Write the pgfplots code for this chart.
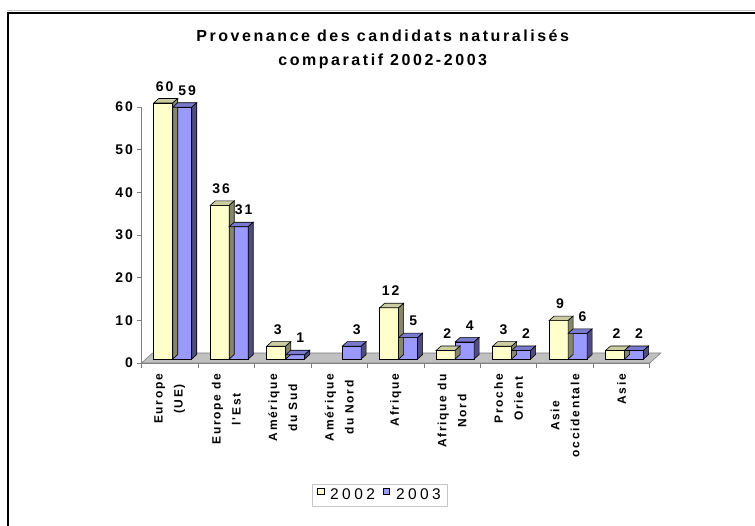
\documentclass[border=0pt]{standalone}
\usepackage{pgfplots}
\usepackage{pgfplotstable}
\pgfplotsset{compat=1.18}
\usepackage{fontspec}
\setmainfont{Liberation Sans}
\newfontfamily\lsf[LetterSpace=22]{Liberation Sans}
\newfontfamily\lsb[LetterSpace=16]{Liberation Sans Bold}
\newfontfamily\lsbt[LetterSpace=14]{Liberation Sans Bold}

\definecolor{f02}{HTML}{FFFFCC}
\definecolor{t02}{HTML}{CCCCA3}
\definecolor{s02}{HTML}{86866B}
\definecolor{f03}{HTML}{9999FF}
\definecolor{t03}{HTML}{7A7ACC}
\definecolor{s03}{HTML}{4D4D80}
\definecolor{floorc}{HTML}{C0C0C0}
\definecolor{axc}{HTML}{808080}

% 3D top and side faces of a bar, drawn at the data point (category centre, value)
\pgfdeclareplotmark{box02}{%
  \pgfmathsetmacro\barH{\barval*4.267}%
  \pgfpathmoveto{\pgfpoint{-16pt}{4pt}}%
  \pgfpathlineto{\pgfpoint{3pt}{4pt}}%
  \pgfpathlineto{\pgfpoint{8pt}{8.5pt}}%
  \pgfpathlineto{\pgfpoint{-11pt}{8.5pt}}%
  \pgfpathclose
  \pgfsetfillcolor{t02}\pgfusepath{fill,stroke}%
  \pgfpathmoveto{\pgfpoint{3pt}{4pt}}%
  \pgfpathlineto{\pgfpoint{8pt}{8.5pt}}%
  \pgfpathlineto{\pgfpoint{8pt}{8.5pt-\barH pt}}%
  \pgfpathlineto{\pgfpoint{3pt}{4pt-\barH pt}}%
  \pgfpathclose
  \pgfsetfillcolor{s02}\pgfusepath{fill,stroke}%
}
\pgfdeclareplotmark{box03}{%
  \pgfmathsetmacro\barH{\barval*4.267}%
  \pgfpathmoveto{\pgfpoint{3pt}{4pt}}%
  \pgfpathlineto{\pgfpoint{22pt}{4pt}}%
  \pgfpathlineto{\pgfpoint{27pt}{8.5pt}}%
  \pgfpathlineto{\pgfpoint{8pt}{8.5pt}}%
  \pgfpathclose
  \pgfsetfillcolor{t03}\pgfusepath{fill,stroke}%
  \pgfpathmoveto{\pgfpoint{22pt}{4pt}}%
  \pgfpathlineto{\pgfpoint{27pt}{8.5pt}}%
  \pgfpathlineto{\pgfpoint{27pt}{8.5pt-\barH pt}}%
  \pgfpathlineto{\pgfpoint{22pt}{4pt-\barH pt}}%
  \pgfpathclose
  \pgfsetfillcolor{s03}\pgfusepath{fill,stroke}%
}

\pgfplotsset{
  leg02/.style={legend image code/.code={\draw[fill=f02, draw=black, line width=0.6pt] (0pt,-3.2pt) rectangle (6.5pt,3.3pt);}},
  leg03/.style={legend image code/.code={\draw[fill=f03, draw=black, line width=0.6pt] (0pt,-3.2pt) rectangle (6.5pt,3.3pt);}},
}

\pgfplotstableread{
x  a  b
0 60 59
1 36 31
2 3 1
3 0 3
4 12 5
5 2 4
6 3 2
7 9 6
8 2 2
}\data

\begin{document}
\begin{tikzpicture}
\begin{axis}[
  x=56.48pt, y=4.267pt,
  xmin=-0.5, xmax=8.5, ymin=0, ymax=60,
  clip=false,
  axis x line*=bottom, axis y line*=left,
  axis line style={draw=axc, line width=0.8pt},
  tick align=outside,
  major tick length=5pt,
  tick style={draw=axc, line width=0.8pt},
  xtick={-0.5,0.5,...,8.5},
  x tick label as interval,
  xticklabels={{Europe\\(UE)},{Europe de\\l'Est},{Amérique\\du Sud},{Amérique\\du Nord},{Afrique},{Afrique du\\Nord},{Proche\\Orient},{Asie\\occidentale},{Asie}},
  x tick label style={font=\lsbt\fontsize{12}{20}\selectfont, yshift=-6pt, rotate=90, anchor=east, align=center, inner sep=0pt},
  ytick={0,10,...,60},
  y tick label style={font=\lsbt\fontsize{14}{16}\selectfont},
  /pgf/number format/assume math mode=true,
  legend columns=2,
  legend style={at={(0.469,-0.516)}, anchor=center, draw=gray!45, line width=0.8pt,
    font=\lsf\fontsize{15.5}{18}\selectfont, inner xsep=5pt, inner ysep=3pt,
    /tikz/every odd column/.append style={column sep=4pt},
    /tikz/every even column/.append style={column sep=6pt}},
]
\coordinate (O) at (axis cs:0,0);
\fill[floorc, draw=axc, line width=0.6pt] (axis cs:-0.5,0) -- (axis cs:8.5,0) -- ++(11pt,10pt) -- ++(-508.3pt,0pt) -- cycle;

\addplot[ybar, bar width=19pt, bar shift=-6.5pt, yshift=4pt, fill=f02, draw=black, line width=0.6pt, leg02,
  restrict y to domain=0.5:100] table[x=x, y=a]{\data};
\addlegendentry{2002}
\addplot[forget plot, only marks, scatter, scatter/use mapped color={draw=black, fill=black},
  mark=box02, mark options={line width=0.6pt},
  visualization depends on={\thisrow{a} \as \barval},
  restrict y to domain=0.5:100,
  nodes near coords,
  every node near coord/.append style={anchor=south, inner sep=0pt, xshift=-5pt, yshift=15.5pt, text=black,
    font=\lsbt\fontsize{14}{16}\selectfont}] table[x=x, y=a]{\data};

\addplot[ybar, bar width=19pt, bar shift=12.5pt, yshift=4pt, fill=f03, draw=black, line width=0.6pt, leg03]
  table[x=x, y=b]{\data};
\addlegendentry{2003}
\addplot[forget plot, only marks, scatter, scatter/use mapped color={draw=black, fill=black},
  mark=box03, mark options={line width=0.6pt},
  visualization depends on={\thisrow{b} \as \barval},
  nodes near coords,
  every node near coord/.append style={anchor=south, inner sep=0pt, xshift=17.5pt, yshift=15.5pt, text=black,
    font=\lsbt\fontsize{14}{16}\selectfont}] table[x=x, y=b]{\data};
\end{axis}
\pgfresetboundingbox
\path[use as bounding box] ([shift={(-169.75pt,-163pt)}]O) rectangle ([shift={(585.25pt,363pt)}]O);
\draw[gray!45, line width=0.8pt] ([shift={(-163pt,352.9pt)}]O) -- ([shift={(600pt,352.9pt)}]O);
\draw[line width=2.3pt, miter limit=10] ([shift={(-161.4pt,-180pt)}]O) -- ([shift={(-161.4pt,350.2pt)}]O) -- ([shift={(600pt,350.2pt)}]O);
\node[anchor=base, font=\lsb\fontsize{16}{18}\selectfont] at ([shift={(213pt,321.6pt)}]O) {Provenance des candidats naturalisés};
\node[anchor=base, font=\lsb\fontsize{16}{18}\selectfont] at ([shift={(213pt,297.6pt)}]O) {comparatif 2002-2003};
\end{tikzpicture}
\end{document}
